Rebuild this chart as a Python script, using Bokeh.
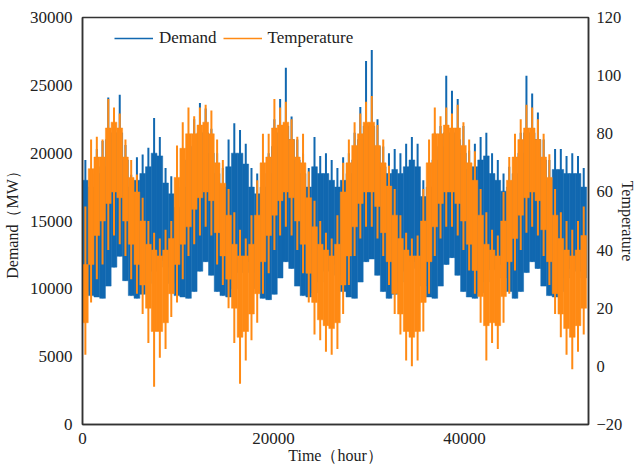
from bokeh.plotting import figure
from bokeh.models import Range1d, LinearAxis, Legend, LegendItem, FixedTicker, ColumnDataSource
from bokeh.embed import file_html
from bokeh.resources import INLINE

# Hourly series summarised in 600-hour bins (start hour of each bin).
# For each bin: the dense band ("core") and the extreme spikes.
bin_hours = list(range(0, 52800, 600))
demand_low = [9800, 9500, 9400, 9300, 10200, 11600, 12400, 10600, 9500, 9300, 9600, 10400, 11300, 12100, 11600, 10400, 9500,
              9400, 9300, 9800, 11300, 12000, 11000, 9800, 9500, 9400, 10000, 11200, 12000, 11200, 10000,
              9300, 9200, 9600, 10800, 12000, 11500, 10200, 9500, 9400, 9700, 10500, 11300, 11800, 11000, 9800,
              9400, 9300, 10500, 12000, 12200, 11000, 9800, 9300, 9600, 10500, 11300, 12000, 11500, 10200,
              9400, 9300, 10200, 11800, 12300, 11000, 9800, 9400, 9300, 9700, 10500, 11400, 11800, 10800, 9800,
              9300, 9800, 11200, 12000, 11500, 10200, 9500, 9400, 9800, 10800, 11500, 11300, 10800]
demand_core_high = [18000, 17500, 18500, 19000, 21000, 21500, 21500, 19500, 17500, 18000, 18500, 19000, 20000, 19800, 17800, 17000, 16000,
                    17500, 19500, 20500, 21500, 21500, 20000, 18500, 17500, 19000, 20000, 20000, 19200, 17500, 17000,
                    17500, 18500, 20500, 21500, 22000, 21000, 19500, 18500, 17500, 19000, 18500, 18500, 18000, 17500, 18000,
                    18500, 19500, 21000, 22000, 22000, 20500, 19000, 18500, 18800, 18500, 19000, 19500, 19000, 16800,
                    17500, 19500, 20500, 21500, 21500, 21000, 20000, 18800, 19000, 19500, 19800, 18500, 18000, 17200, 17500,
                    18500, 20000, 21500, 21500, 21000, 19500, 18000, 18800, 18800, 18500, 18500, 18500, 17500]
demand_peak = [19500, 18700, 20300, 20900, 24100, 22300, 24300, 20600, 18400, 19700, 19900, 20400, 22600, 21200, 18900, 18300, 16900,
               18500, 21000, 22500, 23700, 23300, 21800, 20000, 18900, 21000, 22200, 21700, 20700, 18900, 18500,
               19000, 20000, 22500, 24000, 26300, 22700, 21000, 20000, 18900, 21200, 19800, 20000, 19500, 18900, 19700,
               20000, 21500, 23400, 26800, 27600, 22500, 20500, 20000, 20300, 20000, 20700, 21200, 20700, 18000,
               19000, 21500, 22000, 25700, 24600, 24000, 22000, 20200, 20700, 21200, 21500, 20000, 19500, 18500, 19000,
               20000, 21500, 25700, 24400, 23000, 21000, 19500, 20300, 20300, 19800, 20000, 19800, 18900]
temp_min = [4, 22, 30, 35, 40, 45, 42, 38, 30, 25, 18, 8, -7, 3, 6, 17, 22,
            30, 38, 42, 45, 48, 45, 35, 28, 20, 8, -6, 2, 9, 15,
            25, 32, 40, 45, 48, 45, 40, 32, 22, 11, 9, 5, 4, 6, 18,
            28, 38, 44, 48, 48, 44, 38, 28, 18, 11, 2, 0, 2, 12,
            25, 38, 44, 48, 48, 45, 40, 33, 25, 15, 2, 8, 6, 15, 25,
            33, 40, 46, 48, 45, 38, 28, 18, 10, 4, -1, 5, 11]
temp_core_low = [15, 35, 45, 50, 56, 60, 58, 50, 42, 35, 28, 20, 12, 12, 15, 25, 35,
                 42, 48, 54, 58, 60, 57, 46, 38, 30, 20, 10, 12, 18, 25,
                 36, 45, 52, 57, 60, 58, 50, 42, 32, 22, 16, 14, 13, 15, 28,
                 38, 48, 56, 60, 60, 55, 46, 36, 25, 18, 12, 10, 12, 22,
                 36, 48, 56, 60, 60, 56, 50, 42, 33, 24, 14, 15, 14, 24, 36,
                 44, 52, 58, 60, 57, 47, 36, 25, 18, 13, 10, 14, 20]
temp_core_high = [35, 68, 72, 72, 82, 84, 82, 72, 65, 60, 50, 42, 40, 38, 40, 44, 65,
                  75, 80, 80, 83, 84, 80, 70, 63, 52, 42, 38, 38, 42, 52,
                  70, 72, 82, 83, 84, 78, 72, 70, 58, 48, 42, 40, 38, 42, 60,
                  70, 76, 80, 84, 84, 76, 70, 62, 52, 44, 40, 38, 38, 50,
                  70, 80, 80, 83, 82, 82, 76, 70, 64, 52, 42, 40, 38, 50, 64,
                  72, 78, 82, 82, 78, 72, 65, 52, 44, 40, 38, 40, 45]
temp_max = [55, 78, 79, 78, 92, 89, 87, 78, 71, 66, 58, 50, 46, 44, 47, 50, 76,
            84, 89, 86, 89, 90, 88, 78, 71, 61, 53, 47, 44, 52, 64,
            80, 80, 92, 89, 91, 85, 79, 80, 67, 57, 50, 46, 44, 52, 70,
            78, 84, 87, 91, 93, 83, 78, 69, 61, 52, 46, 44, 45, 61,
            78, 89, 86, 89, 87, 90, 84, 78, 74, 61, 53, 47, 45, 60, 72,
            80, 85, 90, 89, 85, 80, 73, 61, 53, 50, 47, 50, 55]
bin_width = 600

demand_ticks = [0, 5000, 10000, 15000, 20000, 25000, 30000]
temp_ticks = [-20, 0, 20, 40, 60, 80, 100, 120]
time_ticks = [0, 20000, 40000]

BLUE = "#1168b0"
ORANGE = "#ff8a14"
FONT = "Liberation Serif"

src = ColumnDataSource(dict(
    left=bin_hours,
    right=[h + bin_width for h in bin_hours],
    mid=[h + bin_width / 2 for h in bin_hours],
    dlo=demand_low, dcore=demand_core_high, dpk=demand_peak,
    tmin=temp_min, tclo=temp_core_low, tchi=temp_core_high, tmax=temp_max,
))

p = figure(width=639, height=466, output_backend="svg", toolbar_location=None,
           x_range=Range1d(0, 53000), y_range=Range1d(0, 30000),
           min_border_left=82, min_border_right=49, min_border_top=17, min_border_bottom=40)
p.extra_y_ranges = {"temp": Range1d(-20, 120)}

# Demand: dense band + spikes
p.quad(left="left", right="right", bottom="dlo", top="dcore", source=src,
       fill_color=BLUE, line_color=BLUE, line_width=0.5)
p.segment(x0="mid", y0="dlo", x1="mid", y1="dpk", source=src, line_color=BLUE, line_width=2)
# Temperature (drawn on top): dense band + spikes
p.quad(left="left", right="right", bottom="tclo", top="tchi", source=src,
       fill_color=ORANGE, line_color=ORANGE, line_width=0.5, y_range_name="temp")
p.segment(x0="mid", y0="tmin", x1="mid", y1="tmax", source=src, line_color=ORANGE, line_width=2,
          y_range_name="temp")

# legend-only line renderers (a single NaN point, never drawn in the plot)
leg_d = p.line(x=[bin_hours[0]], y=[float("nan")], line_color=BLUE, line_width=1.5)
leg_t = p.line(x=[bin_hours[0]], y=[float("nan")], line_color=ORANGE, line_width=1.5)

right_axis = LinearAxis(y_range_name="temp", axis_label="Temperature")
p.add_layout(right_axis, "right")

p.xaxis.ticker = FixedTicker(ticks=time_ticks)
p.yaxis[0].ticker = FixedTicker(ticks=demand_ticks)
right_axis.ticker = FixedTicker(ticks=temp_ticks)
p.xaxis.axis_label = "Time（hour）"
p.yaxis[0].axis_label = "Demand（MW）"

for ax in p.axis:
    ax.major_tick_line_color = None
    ax.minor_tick_line_color = None
    ax.major_tick_out = 0
    ax.major_tick_in = 0
    ax.minor_tick_out = 0
    ax.axis_line_color = "#333333"
    ax.axis_line_width = 1.5
    ax.major_label_text_font = FONT
    ax.major_label_text_font_size = "17px"
    ax.major_label_text_color = "#222222"
    ax.axis_label_text_font = FONT
    ax.axis_label_text_font_size = "16px"
    ax.axis_label_text_font_style = "normal"
    ax.axis_label_text_color = "#222222"

p.xaxis.major_label_standoff = 8
p.xaxis.axis_label_standoff = 0
p.yaxis[0].major_label_standoff = 10
p.yaxis[0].axis_label_standoff = 6
right_axis.major_label_text_font_size = "16.5px"
right_axis.major_label_standoff = 8
right_axis.axis_label_standoff = -6

p.xgrid.visible = False
p.ygrid.visible = False
p.outline_line_color = "#333333"
p.outline_line_width = 1.5
p.background_fill_color = "white"
p.border_fill_color = "white"

legend = Legend(items=[LegendItem(label="Demand", renderers=[leg_d]),
                       LegendItem(label="Temperature", renderers=[leg_t])],
                orientation="horizontal", location=(32, 376),
                glyph_width=39, glyph_height=20, label_standoff=6, spacing=6,
                label_text_font=FONT, label_text_font_size="17px", label_text_color="#222222",
                padding=0, margin=0, border_line_color=None, background_fill_alpha=0)
p.add_layout(legend)

open("out.html", "w").write(file_html(p, INLINE))
